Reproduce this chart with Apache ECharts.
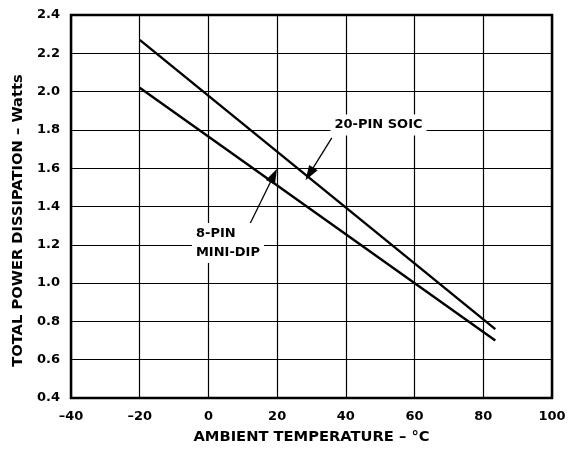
<!DOCTYPE html>
<html><head><meta charset="utf-8">
<script src="https://cdn.jsdelivr.net/npm/echarts@6/dist/echarts.min.js"></script>
<style>html,body{margin:0;padding:0;background:#fff}#c{width:574px;height:449px}</style>
</head><body><div id="c"></div>
<script>
const xTicks = [-40, -20, 0, 20, 40, 60, 80, 100];
const yTicks = [0.4, 0.6, 0.8, 1.0, 1.2, 1.4, 1.6, 1.8, 2.0, 2.2, 2.4];
const soicTemp = [-20, 83.5];
const soicWatts = [2.27, 0.76];
const dipTemp = [-20, 83.5];
const dipWatts = [2.02, 0.70];
const soicLabel = {text: '20-PIN SOIC', at: [49.5, 1.826], align: 'center', arrowFrom: [35.9, 1.758], arrowTo: [29.4, 1.570]};
const dipLabel = {text: '8-PIN\nMINI-DIP', at: [-4.8, 1.209], align: 'left', arrowFrom: [11.5, 1.288], arrowTo: [19.0, 1.562]};

const font = 'DejaVu Sans, Verdana, sans-serif';
const chart = echarts.init(document.getElementById('c'));
function pair(xs, ys){ return xs.map((x,i)=>[x, ys[i]]); }
const ann = (l) => ({
  type: 'line', data: [], silent: true,
  markLine: {
    silent: true, symbol: ['none', 'none'],
    lineStyle: {color: '#000', width: 1.3, type: 'solid'},
    label: {show: false},
    data: [[{coord: l.arrowFrom, symbol: 'none'},
            {coord: l.arrowTo, symbol: 'path://M5,0 L10,15 L0,15 Z', symbolSize: 15, symbolKeepAspect: true}]]
  },
  markPoint: {
    silent: true, symbol: 'rect', symbolSize: 0,
    data: [{coord: l.at, label: {show: true, formatter: l.text, color: '#000', fontFamily: font, fontWeight: 'bold', fontSize: 13, lineHeight: 19, backgroundColor: '#fff', padding: [1, 4], align: l.align, verticalAlign: 'middle', position: 'inside'}}]
  }
});
chart.setOption({
  animation: false,
  grid: {left: 71, right: 22, top: 15, bottom: 51, containLabel: false, outerBoundsMode: 'none', show: true, borderColor: '#000', borderWidth: 2.5, backgroundColor: 'transparent'},
  xAxis: {
    type: 'value', min: xTicks[0], max: xTicks[xTicks.length-1], interval: 20,
    name: 'AMBIENT TEMPERATURE – °C', nameLocation: 'middle', nameGap: 32,
    nameTextStyle: {color: '#000', fontFamily: font, fontWeight: 'bold', fontSize: 14.7},
    axisLine: {show: false}, axisTick: {show: false},
    axisLabel: {color: '#000', fontFamily: font, fontWeight: 'bold', fontSize: 13, margin: 12,
      formatter: v => (v < 0 ? '–' + Math.abs(v) : String(v))},
    splitLine: {show: true, lineStyle: {color: '#000', width: 1.2}}
  },
  yAxis: {
    type: 'value', min: yTicks[0], max: yTicks[yTicks.length-1], interval: 0.2,
    name: 'TOTAL POWER DISSIPATION – Watts', nameLocation: 'middle', nameGap: 40,
    nameTextStyle: {color: '#000', fontFamily: font, fontWeight: 'bold', fontSize: 14.7, padding: [0, 28, 0, 0]},
    axisLine: {show: false}, axisTick: {show: false},
    axisLabel: {color: '#000', fontFamily: font, fontWeight: 'bold', fontSize: 13, margin: 11,
      formatter: v => v.toFixed(1)},
    splitLine: {show: true, lineStyle: {color: '#000', width: 1.2}}
  },
  series: [
    {type: 'line', data: pair(soicTemp, soicWatts), symbol: 'none', lineStyle: {color: '#000', width: 2.4}, silent: true, z: 3},
    {type: 'line', data: pair(dipTemp, dipWatts), symbol: 'none', lineStyle: {color: '#000', width: 2.4}, silent: true, z: 3},
    ann(soicLabel), ann(dipLabel)
  ]
});
</script></body></html>
